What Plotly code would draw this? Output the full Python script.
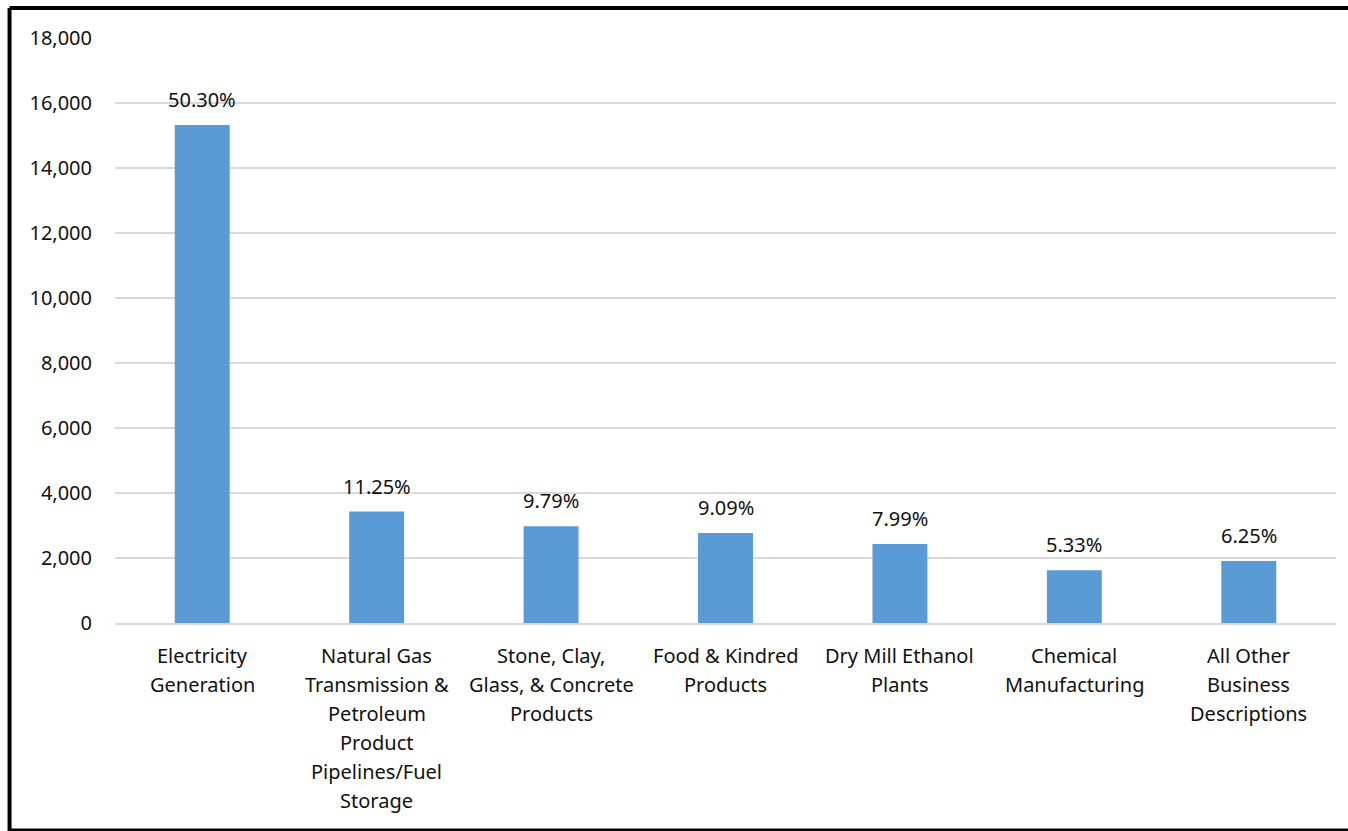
import plotly.graph_objects as go

# Business categories (x axis) and emissions per category
categories = [
    "Electricity<br>Generation",
    "Natural Gas<br>Transmission &<br>Petroleum<br>Product<br>Pipelines/Fuel<br>Storage",
    "Stone, Clay,<br>Glass, & Concrete<br>Products",
    "Food & Kindred<br>Products",
    "Dry Mill Ethanol<br>Plants",
    "Chemical<br>Manufacturing",
    "All Other<br>Business<br>Descriptions",
]
values = [15320, 3430, 2980, 2770, 2430, 1625, 1905]
share_labels = ["50.30%", "11.25%", "9.79%", "9.09%", "7.99%", "5.33%", "6.25%"]
y_ticks = [0, 2000, 4000, 6000, 8000, 10000, 12000, 14000, 16000, 18000]

W, H = 1348, 831
ML, MR, MT, MB = 115, 11.5, 38, 208
PW = W - ML - MR
PH = H - MT - MB

FONT = "Noto Sans"
TXT = "#111111"
BAR = "#5B9BD5"
GRID = "#d9d9d9"
LINE_STEP = 29  # vertical spacing of category label lines, px


def px_x(x):
    return (x - ML) / PW


def px_y(y):
    return (H - MB - y) / PH


fig = go.Figure()
fig.add_trace(go.Bar(
    x=categories,
    y=values,
    marker=dict(color=BAR, line=dict(width=0)),
    hoverinfo="skip",
))

# Percentage share above each bar
for cat, v, lab in zip(categories, values, share_labels):
    fig.add_annotation(
        x=cat, y=v, text=lab, showarrow=False,
        yanchor="bottom", yshift=10,
        font=dict(family=FONT, size=20, color=TXT),
    )

# Category labels, one line at a time for wider line spacing
for cat in categories:
    for i, line in enumerate(cat.split("<br>")):
        fig.add_annotation(
            x=cat, y=0, text=line, showarrow=False,
            yanchor="middle", yshift=-(32 + i * LINE_STEP),
            font=dict(family=FONT, size=20, color=TXT),
        )

# Black frame around the chart area
frame = dict(type="line", xref="paper", yref="paper", line=dict(color="black", width=4))
fig.add_shape(**frame, x0=px_x(9.5), x1=px_x(1352), y0=px_y(8), y1=px_y(8))
fig.add_shape(**frame, x0=px_x(9.5), x1=px_x(9.5), y0=px_y(8), y1=px_y(831))
fig.add_shape(type="line", xref="paper", yref="paper",
              line=dict(color="black", width=3),
              x0=px_x(9.5), x1=px_x(1352), y0=px_y(830), y1=px_y(830))

fig.update_layout(
    width=W, height=H,
    margin=dict(l=ML, r=MR, t=MT, b=MB, pad=0),
    paper_bgcolor="white", plot_bgcolor="white",
    bargap=0.685,
    showlegend=False,
    font=dict(family=FONT, size=20, color=TXT),
)
fig.update_xaxes(
    showgrid=False, showline=True, linecolor=GRID, linewidth=2,
    ticks="", showticklabels=False,
)
fig.update_yaxes(
    range=[0, 18000], tickvals=y_ticks, tickformat=",d",
    showgrid=True, gridcolor=GRID, gridwidth=2,
    zeroline=False, showline=False, ticks="",
    ticklabelstandoff=22,
    tickfont=dict(family=FONT, size=20, color=TXT),
)

fig.write_html("out.html")
